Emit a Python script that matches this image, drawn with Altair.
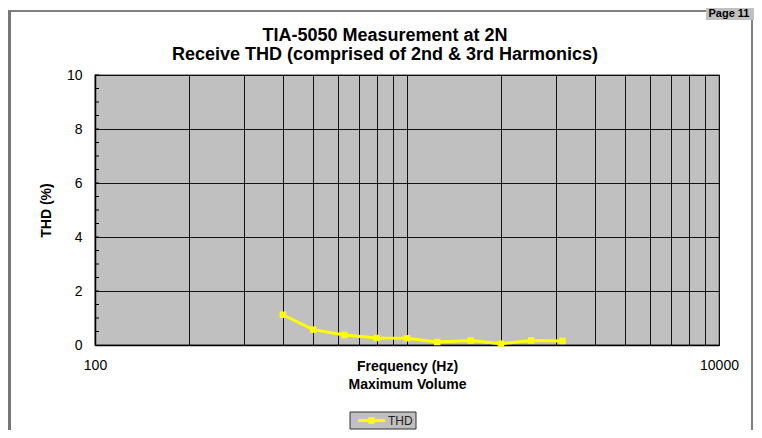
import altair as alt
import pandas as pd

# ---- data ----
freq = [400, 500, 630, 800, 1000, 1250, 1600, 2000, 2500, 3150]
thd = [1.12, 0.57, 0.37, 0.26, 0.25, 0.11, 0.17, 0.05, 0.17, 0.15]
x_grid = [100, 200, 300, 400, 500, 600, 700, 800, 900,
          1000, 2000, 3000, 4000, 5000, 6000, 7000, 8000, 9000, 10000]
x_labels_shown = [100, 10000]
y_ticks = [0, 2, 4, 6, 8, 10]
y_minor = [0.5, 1, 1.5, 2, 2.5, 3, 3.5, 4, 4.5, 5, 5.5, 6, 6.5, 7, 7.5,
           8, 8.5, 9, 9.5, 10]
title_lines = ["TIA-5050 Measurement at 2N",
               "Receive THD  (comprised of 2nd & 3rd Harmonics)"]
x_title = ["Frequency (Hz)", "Maximum Volume"]
y_title = "THD (%)"
series_name = "THD"
page_label = "Page 11"

FONT = "Liberation Sans"
YELLOW = "#ffff00"
W, H = 624, 270

df = pd.DataFrame({"freq": freq, "thd": thd, "series": series_name})
one = pd.DataFrame({"t": [series_name]})
page_df = pd.DataFrame({"t": [page_label]})
t1_df = pd.DataFrame({"t": [title_lines[0]]})
t2_df = pd.DataFrame({"t": [title_lines[1]]})
minor_df = pd.DataFrame({"v": y_minor})

xscale = alt.Scale(type="log", domain=[100, 10000], nice=False)
yscale = alt.Scale(domain=[0, 10], nice=False)

shown = " || ".join(f"datum.value == {v}" for v in x_labels_shown)
xaxis = alt.Axis(
    values=x_grid, format="d",
    labelExpr=f"({shown}) ? datum.label : ''",
    labelOverlap=False, labelFlush=False,
    grid=True, gridColor="#000000", gridWidth=1, gridOpacity=0.9,
    ticks=False, domain=True, domainColor="#000000", domainWidth=1.5,
    labelFont=FONT, labelFontSize=14, labelColor="#000000", labelPadding=13,
    title=x_title, titleFont=FONT, titleFontSize=14, titleFontWeight="bold",
    titleColor="#000000", titleY=14, titleBaseline="top", titleLineHeight=18,
)
yaxis = alt.Axis(
    values=y_ticks, grid=True, gridColor="#000000", gridWidth=1, gridOpacity=0.9,
    ticks=False, domain=True, domainColor="#000000", domainWidth=1.5,
    labelFont=FONT, labelFontSize=14, labelColor="#000000", labelPadding=13,
    title=y_title, titleFont=FONT, titleFontSize=14, titleFontWeight="bold",
    titleColor="#000000", titleX=-49, titleY=H / 2, titleAngle=-90,
    titleAlign="center", titleBaseline="middle",
)

base = alt.Chart(df)
line = base.mark_line(color=YELLOW, strokeWidth=3).encode(
    x=alt.X("freq:Q", scale=xscale, axis=xaxis),
    y=alt.Y("thd:Q", scale=yscale, axis=yaxis),
)
pts = base.mark_square(color=YELLOW, size=42, opacity=1).encode(
    x=alt.X("freq:Q", scale=xscale, axis=xaxis),
    y=alt.Y("thd:Q", scale=yscale, axis=yaxis),
)

minor = alt.Chart(minor_df).mark_rule(color="#000000", strokeWidth=1).encode(
    y=alt.Y("v:Q", scale=yscale, axis=yaxis),
    x=alt.value(0), x2=alt.value(4),
)

# ---- chart title (two lines, centred on the chart frame) ----
title1 = alt.Chart(t1_df).mark_text(
    font=FONT, fontSize=18, fontWeight="bold", color="#000000",
    align="center", baseline="middle").encode(
    text="t:N", x=alt.value(290), y=alt.value(-39))
title2 = alt.Chart(t2_df).mark_text(
    font=FONT, fontSize=18, fontWeight="bold", color="#000000",
    align="center", baseline="middle").encode(
    text="t:N", x=alt.value(290), y=alt.value(-20))

# ---- page frame decoration (outside the plot area) ----
frame_top = alt.Chart(one).mark_rule(color="#808080", strokeWidth=2).encode(
    x=alt.value(-87), x2=alt.value(659), y=alt.value(-64))
frame_left = alt.Chart(one).mark_rule(color="#777777", strokeWidth=4).encode(
    x=alt.value(-86), y=alt.value(-64), y2=alt.value(360))
frame_right = alt.Chart(one).mark_rule(color="#808080", strokeWidth=2).encode(
    x=alt.value(657), y=alt.value(-64), y2=alt.value(360))
page_box = alt.Chart(one).mark_rect(color="#c0c0c0").encode(
    x=alt.value(611), x2=alt.value(659), y=alt.value(-67), y2=alt.value(-55))
page_text = alt.Chart(page_df).mark_text(
    font=FONT, fontSize=11, fontWeight="bold", color="#000000",
    align="center", baseline="middle").encode(
    text="t:N", x=alt.value(634), y=alt.value(-61))

# ---- legend (drawn by hand as in the reference) ----
leg_box = alt.Chart(one).mark_rect(fill="#c0c0c0", stroke="#333333", strokeWidth=1).encode(
    x=alt.value(255), x2=alt.value(321), y=alt.value(337), y2=alt.value(354))
leg_line = alt.Chart(one).mark_rule(color=YELLOW, strokeWidth=3).encode(
    x=alt.value(263), x2=alt.value(290), y=alt.value(345.5))
leg_pt = alt.Chart(one).mark_square(color=YELLOW, size=42, opacity=1).encode(
    x=alt.value(276.5), y=alt.value(345.5))
leg_text = alt.Chart(one).mark_text(
    font=FONT, fontSize=12, color="#222222", align="left", baseline="middle").encode(
    text="t:N", x=alt.value(293), y=alt.value(346))

chart = alt.layer(
    line, pts, minor, title1, title2,
    frame_top, frame_left, frame_right, page_box, page_text,
    leg_box, leg_line, leg_pt, leg_text,
).properties(
    width=W, height=H,
    autosize=alt.AutoSizeParams(type="none"),
    padding={"left": 87, "top": 67, "right": 35, "bottom": 85},
).configure(background="#ffffff").configure_view(
    fill="#c0c0c0", stroke="#808080", strokeWidth=1.5,
)

chart.save("out.html", embed_options={"renderer": "svg", "actions": False})
